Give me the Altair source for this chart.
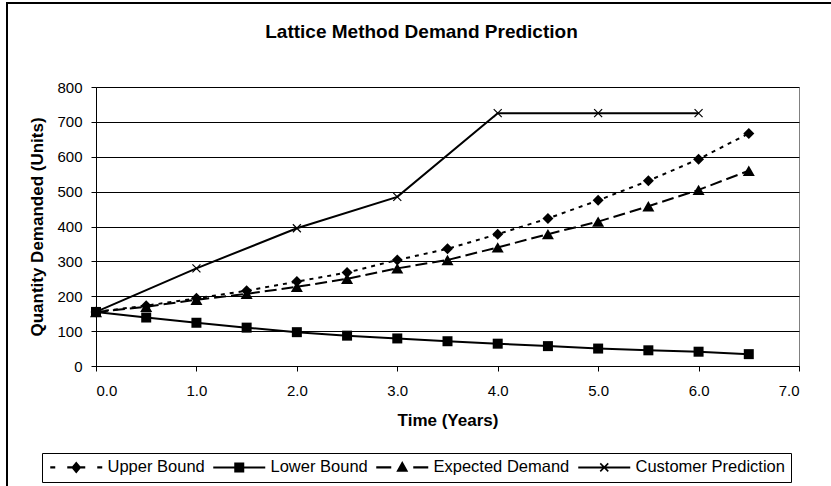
import altair as alt
import pandas as pd

# ---------------- data ----------------
years = [0.0, 0.5, 1.0, 1.5, 2.0, 2.5, 3.0, 3.5, 4.0, 4.5, 5.0, 5.5, 6.0, 6.5]
upper_bound = [155, 173, 194, 216, 242, 268, 304, 336, 378, 423, 475, 531, 593, 667]
lower_bound = [155, 139, 124, 110, 97, 87, 79, 71, 64, 57, 50, 45, 41, 34]
expected_demand = [155, 170, 190, 207, 227, 250, 280, 304, 340, 378, 414, 458, 505, 560]
customer_years = [0.0, 1.0, 2.0, 3.0, 4.0, 5.0, 6.0]
customer_prediction = [155, 280, 395, 485, 725, 725, 725]

series_names = ["Upper Bound", "Lower Bound", "Expected Demand", "Customer Prediction"]
x_ticks = [0, 1, 2, 3, 4, 5, 6, 7]
y_ticks = [0, 100, 200, 300, 400, 500, 600, 700, 800]

FONT = "Liberation Sans"

# legend sample glyphs (line sample + marker), unit = 4px
legend_paths = [
    # dotted line with diamond
    "M-1.5,-0.3L-0.25,-0.3L-0.25,0.3L-1.5,0.3Z"
    "M2.75,-0.3L7.25,-0.3L7.25,0.3L2.75,0.3Z"
    "M10.25,-0.3L11.5,-0.3L11.5,0.3L10.25,0.3Z"
    "M5,-1.5L6.25,0L5,1.5L3.75,0Z",
    # solid line with square
    "M-1.5,-0.25L11.5,-0.25L11.5,0.25L-1.5,0.25Z"
    "M3.75,-1.25L6.25,-1.25L6.25,1.25L3.75,1.25Z",
    # dashed line with triangle
    "M-1.5,-0.3L2.25,-0.3L2.25,0.3L-1.5,0.3Z"
    "M7.75,-0.3L11.5,-0.3L11.5,0.3L7.75,0.3Z"
    "M5,-1.6L6.5,1.1L3.5,1.1Z",
    # solid line with x
    "M-1.5,-0.25L11.5,-0.25L11.5,0.25L-1.5,0.25Z"
    "M4.14,-1.14L6.14,0.86L5.86,1.14L3.86,-0.86Z"
    "M4.14,1.14L3.86,0.86L5.86,-1.14L6.14,-0.86Z",
]

x_enc = alt.X(
    "t:Q",
    scale=alt.Scale(domain=[0, 7], nice=False, zero=False),
    axis=alt.Axis(
        values=x_ticks, format=".1f", title="Time (Years)", grid=False,
        labelFontSize=15, labelPadding=12, titlePadding=14, tickSize=5,
    ),
)
y_enc = alt.Y(
    "v:Q",
    scale=alt.Scale(domain=[0, 800], nice=False),
    axis=alt.Axis(
        values=y_ticks, format="d", title="Quantity Demanded (Units)", grid=True,
        labelFontSize=15, labelPadding=9, titlePadding=10, tickSize=5,
    ),
)


def series_layers(xs, ys, dash, shape, size, filled):
    df = pd.DataFrame({"t": xs, "v": ys})
    line_kwargs = dict(color="black", strokeWidth=2)
    if dash:
        line_kwargs["strokeDash"] = dash
    line = alt.Chart(df).mark_line(**line_kwargs).encode(x=x_enc, y=y_enc)
    if filled:
        pts = alt.Chart(df).mark_point(
            shape=shape, size=size, filled=True, color="black", opacity=1
        ).encode(x=x_enc, y=y_enc)
    else:
        pts = alt.Chart(df).mark_point(
            shape=shape, size=size, filled=False, color="black", opacity=1, strokeWidth=1.2
        ).encode(x=x_enc, y=y_enc)
    return [line, pts]


# outer chart border (decoration)
border = alt.Chart(pd.DataFrame({"a": [0]})).mark_rect(
    fillOpacity=0, stroke="black", strokeWidth=2
).encode(
    x=alt.value(-89), x2=alt.value(760), y=alt.value(-84), y2=alt.value(420)
)

layers = [border]
layers += series_layers(customer_years, customer_prediction, None, "M-1,-1L1,1M-1,1L1,-1", 64, False)
layers += series_layers(years, lower_bound, None, "square", 100, True)
layers += series_layers(years, expected_demand, [12, 5], "triangle-up", 144, True)
layers += series_layers(years, upper_bound, [4, 5], "diamond", 121, True)

legend_layer = alt.Chart(pd.DataFrame({"series": series_names})).transform_filter(
    "false"
).mark_point(filled=True, color="black", opacity=1, size=64).encode(
    shape=alt.Shape(
        "series:N",
        scale=alt.Scale(domain=series_names, range=legend_paths),
        legend=alt.Legend(
            title=None,
            orient="none",
            legendX=-54,
            legendY=366,
            direction="horizontal",
            columns=4,
            padding=6,
            strokeColor="black",
            fillColor="white",
            labelFont=FONT,
            labelFontSize=16.5,
            labelColor="black",
            labelLimit=300,
            symbolSize=64,
            symbolStrokeWidth=0,
            symbolFillColor="black",
            labelOffset=43,
            columnPadding=6,
        ),
    )
)
layers.append(legend_layer)

chart = alt.layer(*layers).properties(
    width=703,
    height=279,
    padding={"left": 96, "top": 87, "right": 32, "bottom": 120},
    autosize=alt.AutoSizeParams(type="none"),
    title=alt.TitleParams(
        text="Lattice Method Demand Prediction",
        font=FONT, fontSize=19, fontWeight="bold", color="black",
        anchor="middle", frame="group", dx=-26, dy=104, offset=49, baseline="alphabetic",
    ),
).configure(
    background="white",
    font=FONT,
).configure_view(
    stroke="#808080", strokeWidth=1
).configure_axis(
    labelFont=FONT, titleFont=FONT, labelColor="black", titleColor="black",
    titleFontSize=17, titleFontWeight="bold",
    domainColor="black", domainWidth=1, tickColor="black", tickWidth=1,
    gridColor="black", gridWidth=1, gridOpacity=1,
)

chart.save("out.html", embed_options={"renderer": "svg", "actions": False})
